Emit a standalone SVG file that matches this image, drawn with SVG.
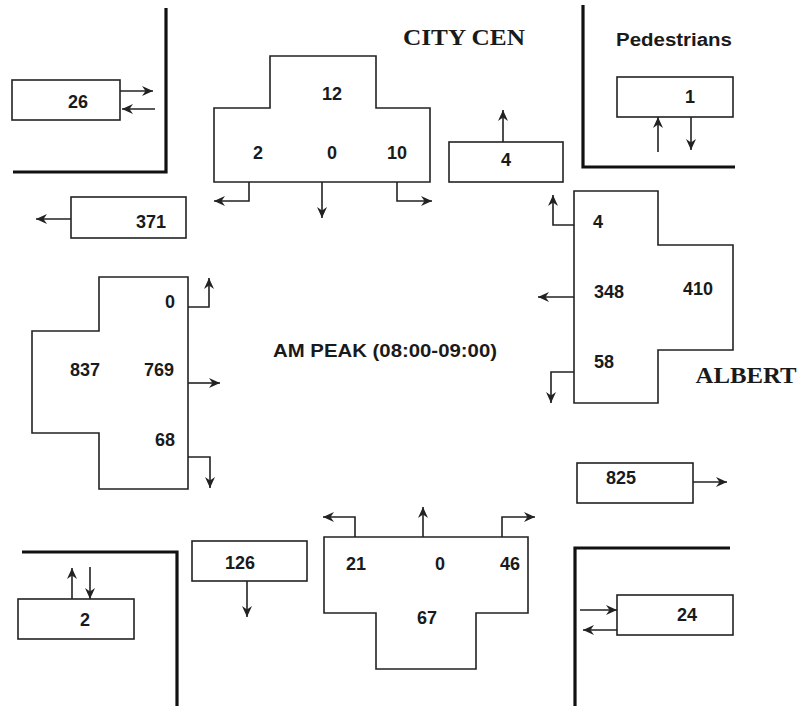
<svg xmlns="http://www.w3.org/2000/svg" width="801" height="706" viewBox="0 0 801 706">
<style>
.bg{fill:#ffffff}
.box{fill:#ffffff;stroke:#222;stroke-width:1.6}
.curb{fill:none;stroke:#111;stroke-width:3.2}
.con{fill:none;stroke:#222;stroke-width:1.6;marker-end:url(#ah)}
.num{font-family:"Liberation Sans",Arial,sans-serif;font-weight:bold;font-size:18px;fill:#1a1a1a;text-anchor:middle}
.road{font-family:"Liberation Serif","Times New Roman",serif;font-weight:bold;font-size:24px;fill:#1a1a1a;text-anchor:middle}
.lbl{font-family:"Liberation Sans",Arial,sans-serif;font-weight:bold;font-size:18px;fill:#1a1a1a;text-anchor:middle}
</style>
<defs>
<marker id="ah" markerUnits="userSpaceOnUse" markerWidth="12" markerHeight="12" refX="11" refY="6" orient="auto">
<path d="M0,1 L11,6 L0,11 L3.5,6 Z" fill="#222"/>
</marker>
</defs>
<rect class="bg" x="0" y="0" width="801" height="706"/>
<g id="curbs">
<polyline class="curb" points="13,172 166,172 166,8"/>
<polyline class="curb" points="583,5 583,167 735,167"/>
<polyline class="curb" points="22,552 177,552 177,706"/>
<polyline class="curb" points="575,706 575,548 730,548"/>
</g>
<g id="titles">
<text class="road" x="464" y="45" textLength="122" lengthAdjust="spacingAndGlyphs">CITY CEN</text>
<text class="road" x="746" y="383" textLength="101" lengthAdjust="spacingAndGlyphs">ALBERT</text>
<text class="lbl" x="674" y="46" font-size="17" textLength="116" lengthAdjust="spacingAndGlyphs">Pedestrians</text>
<text class="lbl" x="385" y="357" font-size="17" textLength="224" lengthAdjust="spacingAndGlyphs">AM PEAK (08:00-09:00)</text>
</g>
<g id="ped-nw"><rect class="box" x="12" y="80" width="108" height="40"/><text class="num" x="78" y="108">26</text></g>
<g id="exit-west"><rect class="box" x="71" y="197" width="115" height="41"/><text class="num" x="151" y="228">371</text></g>
<g id="approach-north">
<path class="box" d="M270,56 H376 V108 H430 V182 H214 V108 H270 Z"/>
<text class="num" x="332" y="100">12</text>
<text class="num" x="258" y="159">2</text>
<text class="num" x="332" y="159">0</text>
<text class="num" x="397" y="159">10</text>
</g>
<g id="exit-north"><rect class="box" x="449" y="142" width="114" height="40"/><text class="num" x="506" y="166">4</text></g>
<g id="ped-ne"><rect class="box" x="617" y="77" width="116" height="40"/><text class="num" x="690" y="103">1</text></g>
<g id="approach-east">
<path class="box" d="M574,191 H658 V245 H733 V350 H658 V403 H574 Z"/>
<text class="num" x="598" y="228">4</text>
<text class="num" x="609" y="298">348</text>
<text class="num" x="698" y="295">410</text>
<text class="num" x="604" y="368">58</text>
</g>
<g id="exit-east"><rect class="box" x="577" y="463" width="116" height="40"/><text class="num" x="621" y="484">825</text></g>
<g id="approach-west">
<path class="box" d="M99,277 H188 V489 H99 V433 H32 V331 H99 Z"/>
<text class="num" x="170" y="308">0</text>
<text class="num" x="85" y="376">837</text>
<text class="num" x="159" y="376">769</text>
<text class="num" x="165" y="446">68</text>
</g>
<g id="ped-sw"><rect class="box" x="18" y="599" width="116" height="40"/><text class="num" x="85" y="626">2</text></g>
<g id="exit-south"><rect class="box" x="192" y="541" width="115" height="40"/><text class="num" x="240" y="569">126</text></g>
<g id="approach-south">
<path class="box" d="M324,537 H528 V613 H476 V669 H376 V613 H324 Z"/>
<text class="num" x="356" y="570">21</text>
<text class="num" x="440" y="570">0</text>
<text class="num" x="510" y="570">46</text>
<text class="num" x="427" y="624">67</text>
</g>
<g id="ped-se"><rect class="box" x="617" y="595" width="116" height="40"/><text class="num" x="687" y="621">24</text></g>
<g id="connectors">
<path class="con" d="M120,91 H153"/>
<path class="con" d="M155,109 H122"/>
<path class="con" d="M71,219 H36"/>
<path class="con" d="M249,182 V201 H214"/>
<path class="con" d="M322,182 V218"/>
<path class="con" d="M397,182 V201 H432"/>
<path class="con" d="M503,142 V110"/>
<path class="con" d="M658,152 V117"/>
<path class="con" d="M691,117 V150"/>
<path class="con" d="M574,225 H553 V195"/>
<path class="con" d="M574,297 H538"/>
<path class="con" d="M574,372 H551 V403"/>
<path class="con" d="M693,482 H727"/>
<path class="con" d="M188,307 H209 V278"/>
<path class="con" d="M188,383 H220"/>
<path class="con" d="M188,457 H210 V488"/>
<path class="con" d="M72,599 V568"/>
<path class="con" d="M90,567 V599"/>
<path class="con" d="M247,581 V617"/>
<path class="con" d="M355,537 V517 H323"/>
<path class="con" d="M423,537 V507"/>
<path class="con" d="M502,537 V517 H535"/>
<path class="con" d="M580,610 H617"/>
<path class="con" d="M617,630 H583"/>
</g>
</svg>
